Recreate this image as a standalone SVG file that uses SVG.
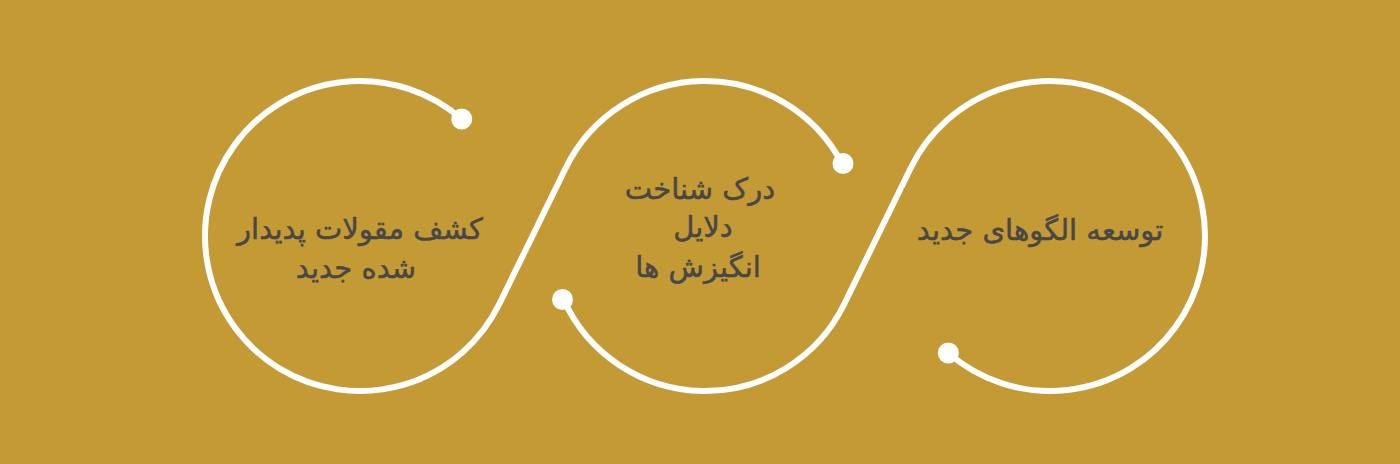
<svg xmlns="http://www.w3.org/2000/svg" width="1400" height="464" viewBox="0 0 1400 464">
<style>
.bg{fill:#C49A34}
.curve{fill:none;stroke:#ffffff;stroke-width:6;stroke-linecap:round}
.dot{fill:#ffffff}
.lbl{font-family:"DejaVu Sans","Noto Sans",sans-serif;font-size:29px;fill:#474747;stroke:#474747;stroke-width:0.5;text-anchor:middle}
</style>
<rect class="bg" x="0" y="0" width="1400" height="464"/>
<g id="connectors">
<path class="curve" d="M461.69,119.02 A155,155 0 1 0 499.28,304.02 L565.72,167.98 A155,155 0 0 1 841.86,163.23"/>
<path class="curve" d="M563.4,299.04 A155,155 0 0 0 844.28,304.02 L910.72,167.98 A155,155 0 1 1 948.31,352.98"/>
<circle class="dot" cx="461.69" cy="119.02" r="10.5"/>
<circle class="dot" cx="843" cy="163.5" r="10.5"/>
<circle class="dot" cx="562.5" cy="299.5" r="10.5"/>
<circle class="dot" cx="948.31" cy="352.98" r="10.5"/>
</g>
<g id="node1">
<text class="lbl" x="360" y="239">کشف مقولات پدیدار</text>
<text class="lbl" x="356" y="278">شده جدید</text>
</g>
<g id="node2">
<text class="lbl" x="700" y="199">درک شناخت</text>
<text class="lbl" x="703" y="237">دلایل</text>
<text class="lbl" x="698" y="277">انگیزش ها</text>
</g>
<g id="node3">
<text class="lbl" x="1040" y="240">توسعه الگوهای جدید</text>
</g>
</svg>
